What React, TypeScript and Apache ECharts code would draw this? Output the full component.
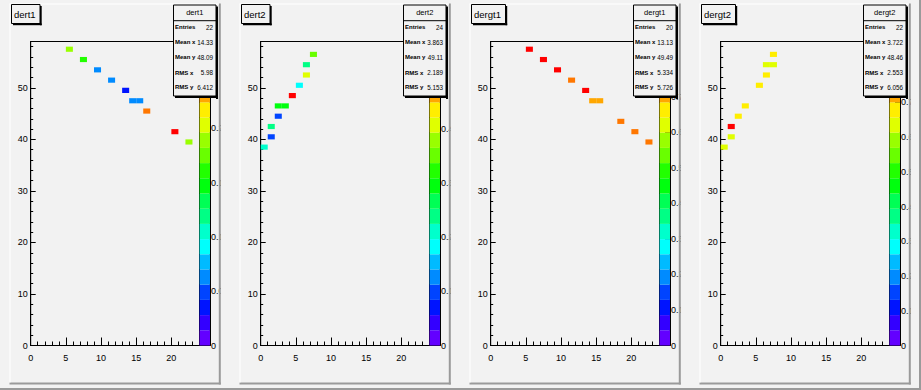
import React, { useEffect, useRef } from "react";
import * as echarts from "echarts";

// ---------------- data ----------------
const padTitles = ["dert1", "dert2", "dergt1", "dergt2"];
const statLabels = ["Entries", "Mean x", "Mean y", "RMS x", "RMS y"];
const statEntries = ["22", "24", "20", "22"];
const statMeanX = ["14.33", "3.863", "13.13", "3.722"];
const statMeanY = ["48.09", "49.11", "49.49", "48.46"];
const statRmsX = ["5.98", "2.189", "5.334", "2.553"];
const statRmsY = ["6.412", "5.153", "5.726", "6.056"];

const xTickValues = [0, 5, 10, 15, 20];
const yTickValues = [0, 10, 20, 30, 40, 50];
// palette (z) axis ticks, and the labels that are not hidden by the stats box
const zTicks1 = [0, 0.05, 0.1, 0.15, 0.2, 0.25];
const zTicks2 = [0, 0.1, 0.2, 0.3, 0.4, 0.5];
const zTicks3 = [0, 0.1, 0.2, 0.3, 0.4, 0.5, 0.6, 0.7, 0.8];
const zTicks4 = [0, 0.1, 0.2, 0.3, 0.4, 0.5, 0.6, 0.7, 0.8];
const zLabels1 = [0, 0.05, 0.1, 0.15, 0.2];
const zLabels2 = [0, 0.1, 0.2, 0.3, 0.4];
const zLabels3 = [0, 0.1, 0.2, 0.3, 0.4, 0.5, 0.6, 0.7];
const zLabels4 = [0, 0.1, 0.2, 0.3, 0.4, 0.5, 0.6, 0.7];
const zMaxValues = [0.28, 0.561, 0.856, 0.875];

// bins: lower edge of x bin, lower edge of y bin, content
const dert1X = [5, 7, 9, 11, 13, 14, 15, 16, 20, 22];
const dert1Y = [57, 55, 53, 51, 49, 47, 47, 45, 41, 39];
const dert1Z = [0.19, 0.16, 0.064, 0.064, 0.035, 0.064, 0.064, 0.245, 0.28, 0.19];

const dert2X = [0, 1, 1, 2, 2, 3, 4, 5, 6, 6, 7];
const dert2Y = [38, 40, 42, 44, 46, 46, 48, 50, 52, 54, 56];
const dert2Z = [0.21, 0.098, 0.238, 0.098, 0.294, 0.294, 0.561, 0.182, 0.406, 0.238, 0.35];

const dergt1X = [5, 7, 9, 11, 13, 14, 15, 18, 20, 22];
const dergt1Y = [57, 55, 53, 51, 49, 47, 47, 43, 41, 39];
const dergt1Z = [0.856, 0.84, 0.84, 0.75, 0.84, 0.71, 0.71, 0.75, 0.75, 0.75];

const dergt2X = [0, 1, 1, 2, 3, 5, 6, 6, 7, 7];
const dergt2Y = [38, 40, 42, 44, 46, 50, 52, 54, 54, 56];
const dergt2Z = [0.64, 0.64, 0.875, 0.68, 0.68, 0.68, 0.68, 0.64, 0.64, 0.68];

const padXs = [dert1X, dert2X, dergt1X, dergt2X];
const padYs = [dert1Y, dert2Y, dergt1Y, dergt2Y];
const padZs = [dert1Z, dert2Z, dergt1Z, dergt2Z];
const padZTicks = [zTicks1, zTicks2, zTicks3, zTicks4];
const padZLabels = [zLabels1, zLabels2, zLabels3, zLabels4];

// ---------------- style / layout ----------------
const FONT = "'Liberation Sans', Arial, Helvetica, sans-serif";
const N_CONTOURS = 20;
const PAD_DX = 230;
const FRAME_L = 30.7;
const FRAME_T = 41.5;
const FRAME_W = 168.8;
const FRAME_H = 304;
const PAL_L = 199.5;
const PAL_W = 10.5;
const PAD_L = 9.5;
const PAD_R = 220.8;
const PAD_T = 3.5;
const PAD_B = 384.5;
const PAD_FILL = "#f2f2f2";
const CANVAS_FILL = "#f2f2f2";
const BORDER_DARK = "#9a9a9a";
const BORDER_LIGHT = "#ffffff";

function hslToHex(h: number, s: number, l: number): string {
  const c = (1 - Math.abs(2 * l - 1)) * s;
  const hp = (((h % 360) + 360) % 360) / 60;
  const x = c * (1 - Math.abs((hp % 2) - 1));
  let r = 0, g = 0, b = 0;
  if (hp < 1) { r = c; g = x; }
  else if (hp < 2) { r = x; g = c; }
  else if (hp < 3) { g = c; b = x; }
  else if (hp < 4) { g = x; b = c; }
  else if (hp < 5) { r = x; b = c; }
  else { r = c; b = x; }
  const m = l - c / 2;
  const toHex = (v: number) => Math.round((v + m) * 255).toString(16).padStart(2, "0");
  return "#" + toHex(r) + toHex(g) + toHex(b);
}

function contourColor(k: number): string {
  const idx = Math.floor(((k + 0.99) * 50) / N_CONTOURS);
  const hue = 280 - (idx + 1) * 5.6;
  return hslToHex(Math.max(hue, 0), 1, 0.5);
}

function valueColor(z: number, zmax: number): string {
  let k = Math.floor((z / zmax) * N_CONTOURS);
  if (k > N_CONTOURS - 1) k = N_CONTOURS - 1;
  if (k < 0) k = 0;
  return contourColor(k);
}

function fmt(v: number): string {
  return String(Math.round(v * 1000) / 1000);
}

function buildOption() {
  const grid: any[] = [];
  const xAxis: any[] = [];
  const yAxis: any[] = [];
  const series: any[] = [];
  const graphic: any[] = [];
  const black = { color: "#000", width: 1 };
  const labelStyle = { fontSize: 9, color: "#000", fontFamily: FONT };

  for (let i = 0; i < 4; i++) {
    const ox = i * PAD_DX;
    const zmax = zMaxValues[i];
    const g = 2 * i;

    grid.push({
      left: ox + FRAME_L, top: FRAME_T, width: FRAME_W, height: FRAME_H,
      show: true, backgroundColor: "transparent", borderColor: "#000", borderWidth: 1,
      containLabel: false, outerBoundsMode: "none",
    });
    grid.push({
      left: ox + PAL_L, top: FRAME_T, width: PAL_W, height: FRAME_H,
      show: true, backgroundColor: "transparent", borderColor: "#000", borderWidth: 1,
      containLabel: false, outerBoundsMode: "none",
    });

    // x axes: major, minor, palette
    xAxis.push({
      gridIndex: g, type: "value", min: 0, max: 24, position: "bottom",
      axisLine: { show: true, onZero: false, lineStyle: black },
      axisTick: { show: true, inside: true, length: 8, customValues: xTickValues, lineStyle: black },
      axisLabel: { show: true, customValues: xTickValues, margin: 8, ...labelStyle },
      splitLine: { show: false },
    });
    xAxis.push({
      gridIndex: g, type: "value", min: 0, max: 24, interval: 1, position: "bottom",
      axisLine: { show: false },
      axisTick: { show: true, inside: true, length: 4, lineStyle: black },
      axisLabel: { show: false }, splitLine: { show: false },
    });
    xAxis.push({ gridIndex: g + 1, type: "value", min: 0, max: 1, show: false });

    // y axes: major, minor, palette
    yAxis.push({
      gridIndex: g, type: "value", min: 0, max: 59, position: "left",
      axisLine: { show: true, onZero: false, lineStyle: black },
      axisTick: { show: true, inside: true, length: 5, customValues: yTickValues, lineStyle: black },
      axisLabel: { show: true, customValues: yTickValues, margin: 3, ...labelStyle },
      splitLine: { show: false },
    });
    yAxis.push({
      gridIndex: g, type: "value", min: 0, max: 59, interval: 2, position: "left",
      axisLine: { show: false },
      axisTick: { show: true, inside: true, length: 2.5, lineStyle: black },
      axisLabel: { show: false }, splitLine: { show: false },
    });
    yAxis.push({
      gridIndex: g + 1, type: "value", min: 0, max: zmax, position: "right",
      axisLine: { show: true, onZero: false, lineStyle: black },
      axisTick: { show: true, inside: true, length: 5, customValues: padZTicks[i], lineStyle: black },
      axisLabel: {
        show: true, customValues: padZLabels[i], margin: 1, ...labelStyle,
        formatter: (v: number) => fmt(v),
      },
      splitLine: { show: false },
    });

    const xs = padXs[i], ys = padYs[i], zs = padZs[i];
    series.push({
      type: "custom", name: padTitles[i], xAxisIndex: 3 * i, yAxisIndex: 3 * i,
      data: xs.map((x, j) => [x, ys[j], zs[j]]),
      renderItem: (_p: any, api: any) => {
        const x = api.value(0), y = api.value(1), z = api.value(2);
        const a = api.coord([x, y + 1]);
        const b = api.coord([x + 1, y]);
        return {
          type: "rect",
          shape: { x: a[0], y: a[1], width: b[0] - a[0], height: b[1] - a[1] },
          style: { fill: valueColor(z, zmax), stroke: null },
        };
      },
      z: 3,
    });

    const bands = Array.from({ length: N_CONTOURS }, (_, k) => [k]);
    series.push({
      type: "custom", name: padTitles[i] + " palette", xAxisIndex: 3 * i + 2, yAxisIndex: 3 * i + 2,
      data: bands,
      renderItem: (_p: any, api: any) => {
        const k = api.value(0);
        const a = api.coord([0, ((k + 1) * zmax) / N_CONTOURS]);
        const b = api.coord([1, (k * zmax) / N_CONTOURS]);
        return {
          type: "rect",
          shape: { x: a[0], y: a[1], width: b[0] - a[0], height: b[1] - a[1] },
          style: { fill: contourColor(k), stroke: null },
        };
      },
      z: 1,
    });

    // pad background
    graphic.push({
      type: "rect", z: -10,
      shape: { x: ox + PAD_L, y: PAD_T, width: PAD_R - PAD_L, height: PAD_B - PAD_T },
      style: { fill: PAD_FILL },
    });
    // cover gap to the right of the pad (clips palette labels)
    graphic.push({
      type: "rect", z: 40,
      shape: { x: ox + PAD_R, y: 0, width: i === 3 ? 921 - (ox + PAD_R) : PAD_DX - (PAD_R - PAD_L), height: 390 },
      style: { fill: CANVAS_FILL },
    });
    // pad borders
    graphic.push({ type: "rect", z: 45, shape: { x: ox + PAD_R - 2, y: PAD_T, width: 2, height: PAD_B - PAD_T }, style: { fill: BORDER_DARK } });
    graphic.push({ type: "rect", z: 45, shape: { x: ox + PAD_L, y: PAD_B - 2, width: PAD_R - PAD_L, height: 2 }, style: { fill: BORDER_DARK } });
    graphic.push({ type: "rect", z: 45, shape: { x: ox + PAD_L, y: PAD_T, width: 1, height: PAD_B - PAD_T - 2 }, style: { fill: BORDER_LIGHT } });
    graphic.push({ type: "rect", z: 45, shape: { x: ox + PAD_L, y: PAD_T, width: PAD_R - PAD_L - 2, height: 1 }, style: { fill: BORDER_LIGHT } });

    // title box
    const tw = i < 2 ? 28.5 : 34;
    graphic.push({
      type: "rect", z: 50,
      shape: { x: ox + 11.5, y: 4.5, width: tw, height: 19 },
      style: { fill: PAD_FILL, stroke: "#000", lineWidth: 1 },
    });
    graphic.push({ type: "rect", z: 50, shape: { x: ox + 11.5 + tw, y: 6, width: 1.7, height: 19.2 }, style: { fill: "#000" } });
    graphic.push({ type: "rect", z: 50, shape: { x: ox + 13, y: 23.5, width: tw + 0.2, height: 1.7 }, style: { fill: "#000" } });
    graphic.push({
      type: "text", z: 51, x: ox + 14, y: 14.5,
      style: {
        text: padTitles[i], fill: "#000", fontSize: 9.5, fontFamily: FONT,
        align: "left", verticalAlign: "middle", textAlign: "left", textVerticalAlign: "middle",
      },
    });

    // stats box
    const sx = ox + 173.5, sy = 5, sw = 42.5, sh = 91;
    graphic.push({
      type: "rect", z: 50, shape: { x: sx, y: sy, width: sw, height: sh },
      style: { fill: PAD_FILL, stroke: "#000", lineWidth: 1 },
    });
    graphic.push({ type: "rect", z: 50, shape: { x: sx + sw, y: sy + 1.5, width: 2, height: sh + 1.5 }, style: { fill: "#000" } });
    graphic.push({ type: "rect", z: 50, shape: { x: sx + 1.5, y: sy + sh, width: sw, height: 2 }, style: { fill: "#000" } });
    graphic.push({ type: "line", z: 51, shape: { x1: sx, y1: 20.7, x2: sx + sw, y2: 20.7 }, style: { stroke: "#000", lineWidth: 1 } });
    graphic.push({
      type: "text", z: 51, x: sx + sw / 2, y: 12.8,
      style: {
        text: padTitles[i], fill: "#000", fontSize: 7.5, fontFamily: FONT,
        align: "center", verticalAlign: "middle", textAlign: "center", textVerticalAlign: "middle",
      },
    });
    const vals = [statEntries[i], statMeanX[i], statMeanY[i], statRmsX[i], statRmsY[i]];
    const rowY = [27, 42.3, 57.3, 72.7, 87.3];
    for (let r = 0; r < 5; r++) {
      graphic.push({
        type: "text", z: 51, x: sx + 1.5, y: rowY[r],
        style: {
          text: statLabels[r], fill: "#000", fontSize: 6, fontWeight: "bold", fontFamily: FONT,
          align: "left", verticalAlign: "middle", textAlign: "left", textVerticalAlign: "middle",
        },
      });
      graphic.push({
        type: "text", z: 51, x: sx + sw - 3, y: rowY[r],
        style: {
          text: vals[r], fill: "#000", fontSize: 6.3, fontFamily: FONT,
          align: "right", verticalAlign: "middle", textAlign: "right", textVerticalAlign: "middle",
        },
      });
    }
  }

  // canvas border
  graphic.push({ type: "rect", z: 46, shape: { x: 0, y: 388, width: 921, height: 2 }, style: { fill: BORDER_DARK } });
  graphic.push({ type: "rect", z: 46, shape: { x: 919, y: 0, width: 2, height: 390 }, style: { fill: BORDER_DARK } });

  return {
    animation: false,
    backgroundColor: CANVAS_FILL,
    grid, xAxis, yAxis, series, graphic,
  };
}

export default function App() {
  const ref = useRef<HTMLDivElement>(null);
  useEffect(() => {
    document.body.style.margin = "0";
    const chart = echarts.init(ref.current!, null, { renderer: "svg", width: 921, height: 390 });
    chart.setOption(buildOption() as any);
    return () => chart.dispose();
  }, []);
  return <div ref={ref} style={{ width: 921, height: 390 }} />;
}
